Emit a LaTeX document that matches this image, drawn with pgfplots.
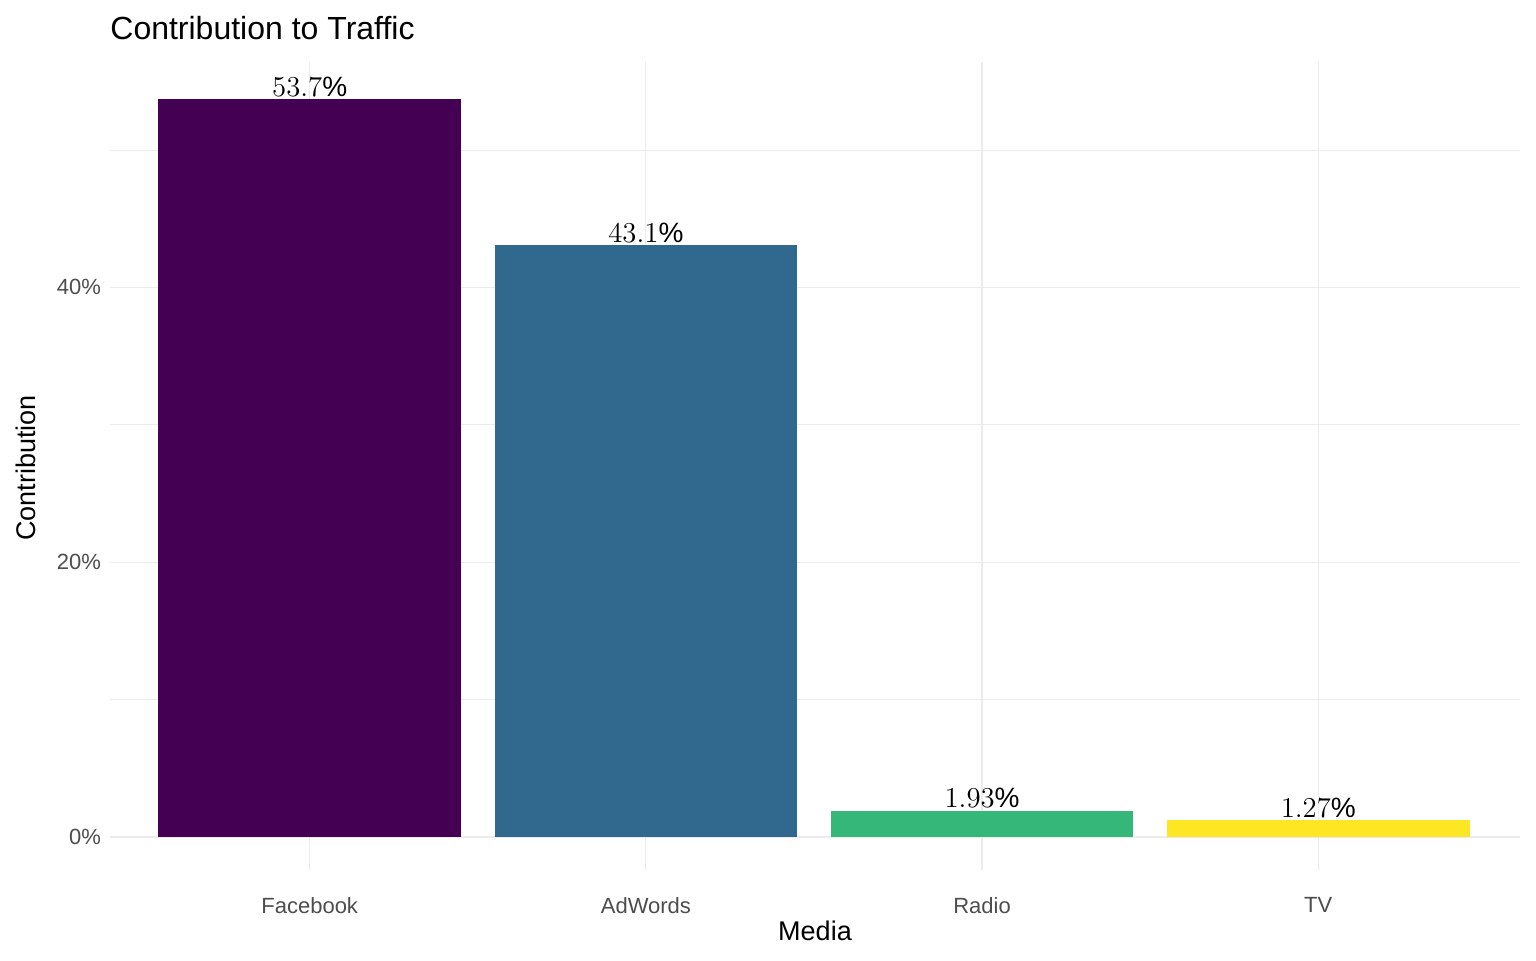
\documentclass[border=0pt]{standalone}
\usepackage{pgfplots}
\pgfplotsset{compat=1.18}
\usepackage{fontspec}
\setmainfont{Liberation Sans}
\definecolor{gridc}{HTML}{EBEBEB}
\definecolor{tickc}{HTML}{4D4D4D}
\begin{document}
\begin{tikzpicture}
\path[use as bounding box] (0,0) rectangle (768pt,480pt);
\begin{axis}[at={(55pt,45pt)},anchor=south west,scale only axis,
 width=705pt,height=404pt,
 xmin=-0.594,xmax=3.6,ymin=-2.4,ymax=56.4,
 axis line style={draw=none},tick style={draw=none},
 xtick={0,1,2,3},xticklabels={Facebook,AdWords,Radio,TV},
 ytick={0,20,40},yticklabels={0\%,20\%,40\%},
 minor ytick={10,30,50},
 grid=both,major grid style={gridc,line width=0.6pt},minor grid style={gridc,line width=0.3pt},
 ticklabel style={font=\fontsize{11}{13}\selectfont,text=tickc},
 xticklabel style={yshift=-6pt},yticklabel style={xshift=-1pt},
 clip=false,
 ybar,bar width=0.9,bar shift=0pt,
 nodes near coords={\pgfmathprintnumber{\pgfplotspointmeta}\%},
 nodes near coords style={font=\fontsize{14}{16}\selectfont,text=black,inner sep=1pt},
]
\addplot[fill={rgb,255:red,68;green,1;blue,84},draw=none] coordinates {(0,53.7)};
\addplot[fill={rgb,255:red,49;green,104;blue,142},draw=none] coordinates {(1,43.1)};
\addplot[fill={rgb,255:red,53;green,183;blue,121},draw=none] coordinates {(2,1.93)};
\addplot[fill={rgb,255:red,253;green,231;blue,37},draw=none] coordinates {(3,1.27)};
\end{axis}
\node[anchor=base west,font=\fontsize{16}{18}\selectfont,inner sep=0pt] at (55pt,460pt) {Contribution to Traffic};
\node[anchor=base,font=\fontsize{13.5}{15}\selectfont,inner sep=0pt] at (407.5pt,10pt) {Media};
\node[rotate=90,font=\fontsize{13.5}{15}\selectfont,inner sep=0pt] at (13pt,246pt) {Contribution};
\end{tikzpicture}
\end{document}
